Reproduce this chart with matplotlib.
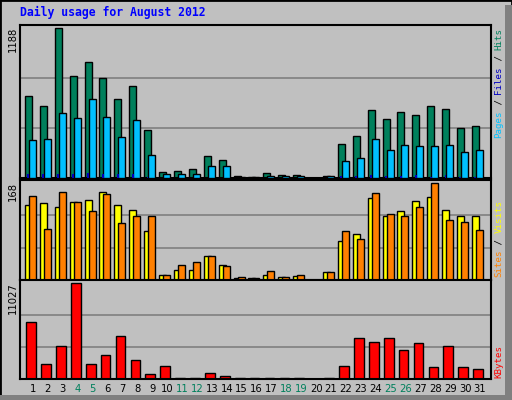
import matplotlib
matplotlib.use("Agg")
import matplotlib.pyplot as plt
from matplotlib.patches import Rectangle
import numpy as np

days = list(range(1, 32))
weekend = [4, 5, 11, 12, 18, 19, 25, 26]
hits = [646, 574, 1188, 808, 916, 792, 622, 727, 380, 48, 57, 73, 178, 145, 19, 8,
        40, 24, 24, 0, 19, 267, 331, 541, 469, 525, 501, 574, 549, 396, 412]
files = [299, 307, 517, 477, 622, 485, 323, 461, 186, 32, 32, 32, 97, 97, 8, 8,
         16, 16, 16, 0, 16, 137, 162, 307, 218, 259, 250, 250, 259, 202, 218]
pages = [30, 30, 30, 30, 40, 30, 30, 30, 5, 3, 3, 3, 3, 3, 1, 1,
         1, 1, 1, 0, 1, 12, 12, 20, 14, 18, 22, 8, 20, 8, 8]
visits = [130, 133, 126, 135, 139, 153, 130, 121, 84, 9, 18, 18, 42, 26, 4, 4,
          9, 5, 7, 0, 13, 68, 79, 142, 111, 119, 137, 144, 121, 111, 110]
sites = [146, 88, 153, 135, 119, 148, 99, 110, 111, 9, 26, 31, 42, 24, 5, 4,
         15, 5, 9, 0, 13, 84, 71, 150, 115, 111, 126, 168, 104, 100, 86]
kbytes = [6543, 1696, 3757, 11027, 1696, 2787, 4968, 2181, 606, 1454, 60, 60, 727, 364, 60, 60,
          60, 60, 60, 0, 60, 1454, 4726, 4241, 4726, 3272, 4120, 1333, 3757, 1333, 1091]

W, H = 512, 400
fig = plt.figure(figsize=(W/100, H/100), dpi=100)
fig.patch.set_facecolor("#C0C0C0")
# frame
fig.add_artist(Rectangle((0, 0), 1, 1, transform=fig.transFigure, fill=False, ec="black", lw=2))
fig.add_artist(Rectangle((505/W, 0), 7/W, (H-5)/H, transform=fig.transFigure, fc="#808080", ec="none"))
fig.add_artist(Rectangle((0, 0), 1, 5/H, transform=fig.transFigure, fc="#808080", ec="none"))

def ax_px(x0, y0, x1, y1):
    a = fig.add_axes([x0/W, 1-y1/H, (x1-x0)/W, (y1-y0)/H])
    a.set_facecolor("#C0C0C0")
    a.set_xlim(0.13, 31.74)
    a.set_xticks([]); a.set_yticks([])
    for s in a.spines.values():
        s.set_linewidth(1.5); s.set_color("black")
    return a

d = np.array(days, dtype=float)
ax1 = ax_px(20, 25, 491, 178)
ax1.set_ylim(0, 1188*1.02)
for g in [1188/3, 2*1188/3]:
    ax1.axhline(g, color="#808080", lw=1.2, zorder=0)
ax1.bar(d-0.54, hits, width=0.47, align="edge", color="#00805C", ec="black", lw=1, zorder=2)
ax1.bar(d-0.27, files, width=0.47, align="edge", color="#00C0FF", ec="black", lw=1, zorder=3)
ax1.bar(d-0.38, pages, width=0.13, align="edge", color="#0000C0", ec="none", lw=0, zorder=4)

ax2 = ax_px(20, 180, 491, 280)
ax2.set_ylim(0, 168*1.03)
for g in [56, 112]:
    ax2.axhline(g, color="#808080", lw=1.2, zorder=0)
ax2.bar(d-0.54, visits, width=0.47, align="edge", color="#FFFF00", ec="black", lw=1, zorder=2)
ax2.bar(d-0.27, sites, width=0.47, align="edge", color="#FF8000", ec="black", lw=1, zorder=3)

ax3 = ax_px(20, 280, 491, 379)
ax3.set_ylim(0, 11027*1.03)
for g in [11027/3, 2*11027/3]:
    ax3.axhline(g, color="#808080", lw=1.2, zorder=0)
ax3.bar(d-0.45, kbytes, width=0.65, align="edge", color="#FF0000", ec="black", lw=1, zorder=2)

for day in days:
    fig.text((33+14.9*(day-1))/W, 1-389/H, str(day), ha="center", va="center",
             fontsize=7.2, color="#00805C" if day in weekend else "black")

fig.text(20/W, 1-12/H, "Daily usage for August 2012", family="DejaVu Sans Mono",
         fontweight="bold", fontsize=8.3, color="#0000FF", va="center", ha="left")

for lbl, ytop in [("1188", 27), ("168", 182), ("11027", 282)]:
    fig.text(13/W, 1-ytop/H, lbl, rotation=90, ha="center", va="top", fontsize=7.2)

def vlabel(segments, ybottom):
    y = ybottom
    for txt, col in segments:
        fig.text(499/W, 1-y/H, txt, rotation=90, ha="center", va="bottom",
                 family="DejaVu Sans Mono", fontsize=6.6, color=col)
        y -= 5.5*len(txt)

vlabel([("Pages", "#00C0FF"), (" / ", "black"), ("Files", "#0000C0"), (" / ", "black"), ("Hits", "#00805C")], 138)
vlabel([("Sites", "#FF8000"), (" / ", "black"), ("Visits", "#FFFF00")], 277)
vlabel([("KBytes", "#FF0000")], 378)

fig.savefig("out.png", dpi=100, facecolor=fig.get_facecolor())
